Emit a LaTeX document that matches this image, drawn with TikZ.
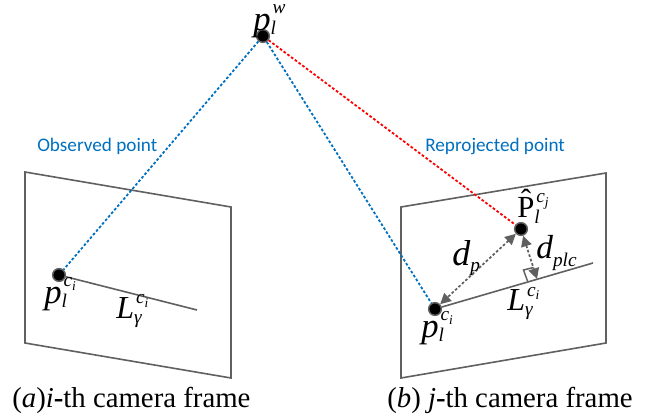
\documentclass[tikz,border=0pt]{standalone}
\usepackage{fontspec}
\setmainfont{Liberation Serif}
\newfontfamily\bluefont{Carlito}
\usetikzlibrary{arrows.meta}
\definecolor{frameg}{HTML}{606060}
\definecolor{blueln}{HTML}{0070C0}
\newcommand{\scrf}{\fontsize{14.5}{15}\selectfont\itshape}
\newcommand{\ssx}[1]{\raisebox{-2.8pt}{\fontsize{10}{10}\selectfont\itshape #1}}
% size, main, drop (pt), subscript, raise (pt), superscript
\newcommand{\lbl}[6]{{\fontsize{#1}{#1}\selectfont #2}\rlap{\raisebox{-#3pt}{\scrf #4}}\hspace{1.5pt}\raisebox{#5pt}{\scrf #6}}
\newcommand{\lbs}[4]{{\fontsize{#1}{#1}\selectfont #2}\raisebox{-#3pt}{\scrf #4}}
\tikzset{
 framel/.style={draw=frameg,line width=1.2pt,line join=miter},
 obs/.style={draw=blueln,line width=1.35pt,dash pattern=on 2pt off 1.5pt},
 rep/.style={draw=red,line width=1.35pt,dash pattern=on 2pt off 1.5pt},
 dist/.style={draw=frameg,line width=1.3pt,dash pattern=on 2pt off 1.5pt,{Triangle[length=8pt,width=8pt,fill=frameg]}-{Triangle[length=8pt,width=8pt,fill=frameg]}},
 pt/.style={circle,fill=black,draw=frameg,line width=1.1pt,inner sep=0pt,minimum size=9.5pt},
 lab/.style={inner sep=0pt,anchor=base west},
 captext/.style={inner sep=0pt,font=\fontsize{21.6}{25}\selectfont,anchor=base west},
 bluet/.style={inner sep=0pt,text=blueln,font=\bluefont\fontsize{14.4}{17}\selectfont,anchor=base west}
}
\begin{document}
\begin{tikzpicture}[x=0.75pt,y=-0.75pt]
\useasboundingbox (0,0) rectangle (654,418);
\draw[framel] (25,172) -- (231,207) -- (231,378) -- (25,343) -- cycle;
\draw[framel] (401,207) -- (606,173) -- (606,343) -- (401,378) -- cycle;
\node[pt] (pw) at (263,36) {};
\node[pt] (pa) at (59,275) {};
\node[pt] (pb) at (435,309) {};
\node[pt] (ph) at (521,229) {};
\coordinate (la) at (197,310);
\coordinate (lb) at (593,263);
\coordinate (foot) at (537,279);
\coordinate (m1) at (527.5,281);
\coordinate (m2) at (523.5,270);
\coordinate (m3) at (533.5,267.5);
\draw[obs] (pw) -- (pa);
\draw[obs] (pw) -- (pb);
\draw[rep] (pw) -- (ph);
\draw[framel] (pa) -- (la);
\draw[framel] (pb) -- (lb);
\draw[dist] (ph) -- (pb);
\draw[dist] (ph) -- (foot);
\draw[framel,line width=1.1pt] (m1) -- (m2) -- (m3);
\node[lab] (t1) at (253,30) {\lbl{26}{\textit{p}}{3}{l}{12.5}{w}};
\node[lab] (t2) at (44,303) {\lbl{26}{\textit{p}}{3.5}{l}{12.5}{c\ssx{i}}};
\node[lab] (t3) at (116,318) {\lbl{24}{\textit{L}}{3.8}{γ}{11}{c\ssx{i}}};
\node[lab] (t4) at (421,337) {\lbl{26}{\textit{p}}{3.5}{l}{12.5}{c\ssx{i}}};
\node[lab] (t5) at (507,310) {\lbl{24}{\textit{L}}{3.8}{γ}{10.5}{c\ssx{i}}};
\node[lab] (t6) at (517,217) {\lbl{23}{\^{P}}{4.5}{l}{11}{c\ssx{j}}};
\node[lab] (t7) at (452,265) {\lbs{27}{\textit{d}}{4.5}{p}};
\node[lab] (t8) at (536,258) {\lbs{25}{\textit{d}}{6}{plc}};
\node[bluet] (o) at (37,151) {Observed point};
\node[bluet] (r) at (425,151) {Reprojected point};
\node[captext] (ca) at (12,407) {(\textit{a})\textit{i}\textbf{-}th camera frame};
\node[captext] (cb) at (387,407) {(\textit{b}) \textit{j}\textbf{-}th camera frame};
\end{tikzpicture}
\end{document}
